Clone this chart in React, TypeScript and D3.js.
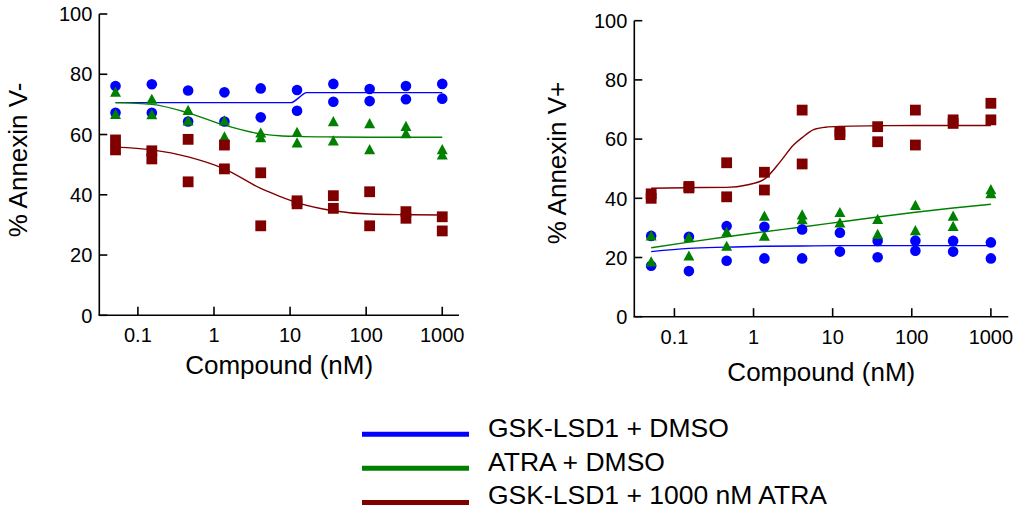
import React from 'react';
import * as d3 from 'd3';

// ---------- data ----------
const conc = [0.0508, 0.1524, 0.4572, 1.372, 4.115, 12.35, 37.04, 111.1, 333.3, 1000];

const seriesNames = ['GSK-LSD1 + DMSO', 'ATRA + DMSO', 'GSK-LSD1 + 1000 nM ATRA'];

// Annexin V- (left)
const negLsdRep1 = [76.1, 76.7, 74.6, 74.0, 75.3, 74.8, 76.8, 75.1, 76.1, 76.8];
const negLsdRep2 = [67.2, 67.2, 64.3, 64.3, 65.7, 67.9, 70.9, 71.1, 71.7, 71.9];
const negAtraRep1 = [74.2, 71.8, 68.1, 64.6, 60.6, 60.8, 64.4, 63.7, 62.8, 55.1];
const negAtraRep2 = [66.8, 66.7, 64.6, 59.3, 59.1, 57.3, 58.0, 55.1, 60.4, 53.3];
const negComboRep1 = [58.2, 54.6, 58.4, 56.5, 47.3, 38.0, 39.7, 41.0, 34.4, 32.7];
const negComboRep2 = [54.9, 51.9, 44.3, 48.6, 29.7, 37.0, 35.5, 29.7, 32.2, 28.0];

// fitted curves: [concentration, value]
const negLsdFit: [number, number][] = [[0.0508, 70.6], [10.4, 70.6], [13.1, 72.25], [16.4, 73.9], [1000, 73.9]];
const negAtraFit: [number, number][] = [[0.0508, 70.6], [0.1524, 70.0], [0.4572, 67.2], [1.372, 63.1], [4.115, 60.2], [7.3, 59.6], [12.35, 59.4], [37.04, 59.2], [111.1, 59.1], [333.3, 59.1], [1000, 59.1]];
const negComboFit: [number, number][] = [[0.0508, 55.8], [0.1524, 54.9], [0.4572, 52.6], [1.372, 48.6], [4.115, 42.1], [7.3, 39.5], [12.35, 37.4], [37.04, 34.7], [111.1, 33.6], [333.3, 33.4], [1000, 33.3]];

// Annexin V+ (right)
const posLsdRep1 = [27.3, 27.0, 30.6, 30.4, 29.5, 28.4, 25.6, 25.7, 25.6, 25.1];
const posLsdRep2 = [17.2, 15.4, 18.9, 19.7, 19.7, 22.0, 20.1, 22.3, 22.0, 19.7];
const posAtraRep1 = [27.4, 26.8, 28.7, 34.1, 34.5, 35.3, 33.0, 37.7, 34.1, 43.0];
const posAtraRep2 = [18.6, 20.6, 23.9, 27.3, 32.9, 31.8, 27.9, 29.2, 30.6, 41.7];
const posComboRep1 = [41.5, 44.0, 52.0, 48.8, 69.8, 62.5, 64.2, 69.8, 66.5, 72.1];
const posComboRep2 = [40.0, 43.5, 40.5, 42.8, 51.6, 61.5, 59.1, 58.0, 65.3, 66.5];

const posLsdFit: [number, number][] = [[0.0508, 22.0], [0.1524, 23.1], [0.4572, 23.5], [1.372, 23.8], [4.115, 23.9], [12.35, 24.0], [1000, 24.0]];
const posAtraFit: [number, number][] = [[0.0508, 23.3], [0.1524, 25.2], [0.4572, 27.0], [1.372, 28.7], [4.115, 30.3], [12.35, 32.0], [37.04, 33.7], [111.1, 35.3], [333.3, 36.7], [1000, 38.0]];
const posComboFit: [number, number][] = [[0.0508, 43.4], [0.1524, 43.6], [0.4572, 43.7], [0.82, 44.5], [1.372, 46.5], [2.18, 52.4], [3.2, 58.0], [4.115, 60.5], [5.75, 63.2], [8.1, 64.0], [12.35, 64.3], [37.04, 64.5], [111.1, 64.6], [333.3, 64.6], [1000, 64.6]];

const yTicks = [0, 20, 40, 60, 80, 100];
const xTicks = [0.1, 1, 10, 100, 1000];
const xTickLabels = ['0.1', '1', '10', '100', '1000'];

// ---------- styles / layout ----------
const FONT = '"Liberation Sans", Arial, Helvetica, sans-serif';
const COLORS = ['#0000ff', '#008000', '#800000'];
const X_DOMAIN: [number, number] = [0.0311, 1660];

type Marker = 'circle' | 'triangle' | 'square';
const MARKERS: Marker[] = ['circle', 'triangle', 'square'];

const panels = [
  {
    title: '% Annexin V-',
    left: 99.3, right: 459, top: 14, bottom: 315.3,
    titleX: 27, titleY: 160, xTitleY: 374,
    reps: [[negLsdRep1, negLsdRep2], [negAtraRep1, negAtraRep2], [negComboRep1, negComboRep2]],
    fits: [negLsdFit, negAtraFit, negComboFit],
  },
  {
    title: '% Annexin V+',
    left: 634.3, right: 1008.3, top: 20.7, bottom: 316.7,
    titleX: 566, titleY: 163, xTitleY: 380.5,
    reps: [[posLsdRep1, posLsdRep2], [posAtraRep1, posAtraRep2], [posComboRep1, posComboRep2]],
    fits: [posLsdFit, posAtraFit, posComboFit],
  },
];

function MarkerShape({ kind, x, y, color }: { kind: Marker; x: number; y: number; color: string }) {
  if (kind === 'circle') return <circle cx={x} cy={y} r={5.3} fill={color} />;
  if (kind === 'square') return <rect x={x - 5.4} y={y - 5.4} width={10.8} height={10.8} fill={color} />;
  return <path d={`M${x},${y - 5.3}L${x + 5.5},${y + 4.9}L${x - 5.5},${y + 4.9}Z`} fill={color} />;
}

function Panel({ p }: { p: typeof panels[number] }) {
  const x = d3.scaleLog().domain(X_DOMAIN).range([p.left, p.right]);
  const y = d3.scaleLinear().domain([0, 100]).range([p.bottom, p.top]);
  const line = d3
    .line<[number, number]>()
    .x((d) => x(d[0]))
    .y((d) => y(d[1]))
    .curve(d3.curveMonotoneX);
  const xMid = (p.left + p.right) / 2;
  return (
    <g>
      {/* axes */}
      <line x1={p.left} x2={p.left} y1={p.top} y2={p.bottom} stroke="#000" strokeWidth={1.6} />
      <line x1={p.left - 0.8} x2={p.right} y1={p.bottom} y2={p.bottom} stroke="#000" strokeWidth={1.6} />
      {yTicks.map((t) => (
        <g key={'y' + t}>
          <line x1={p.left} x2={p.left + 8} y1={y(t)} y2={y(t)} stroke="#000" strokeWidth={1.6} />
          <text x={p.left - 7} y={y(t)} dy="0.36em" textAnchor="end" fontSize={20} fontFamily={FONT} fill="#000">
            {t}
          </text>
        </g>
      ))}
      {xTicks.map((t, i) => (
        <g key={'x' + t}>
          <line x1={x(t)} x2={x(t)} y1={p.bottom} y2={p.bottom - 8.5} stroke="#000" strokeWidth={1.6} />
          <text x={x(t)} y={p.bottom + 27} textAnchor="middle" fontSize={20} fontFamily={FONT} fill="#000">
            {xTickLabels[i]}
          </text>
        </g>
      ))}
      <text x={xMid} y={p.xTitleY} textAnchor="middle" fontSize={26} fontFamily={FONT} fill="#000">
        Compound (nM)
      </text>
      <text
        transform={`translate(${p.titleX},${p.titleY}) rotate(-90)`}
        textAnchor="middle"
        fontSize={26}
        fontFamily={FONT}
        fill="#000"
      >
        {p.title}
      </text>
      {/* fitted curves */}
      {p.fits.map((f, si) => (
        <path key={'f' + si} d={line(f) || ''} fill="none" stroke={COLORS[si]} strokeWidth={1.4} />
      ))}
      {/* replicate points */}
      {p.reps.map((reps, si) => (
        <g key={'s' + si}>
          {reps.map((rep, ri) =>
            rep.map((v, i) => (
              <MarkerShape key={`${ri}-${i}`} kind={MARKERS[si]} x={x(conc[i])} y={y(v)} color={COLORS[si]} />
            ))
          )}
        </g>
      ))}
    </g>
  );
}

const legendLineY = [434.3, 468.3, 502.5];
const legendTextY = [437.3, 471, 504.2];

export default function App() {
  return (
    <svg
      width={1014}
      height={510}
      viewBox="0 0 1014 510"
      style={{ position: 'absolute', left: 0, top: 0, background: '#fff' }}
    >
      <rect x={0} y={0} width={1014} height={510} fill="#fff" />
      {panels.map((p, i) => (
        <Panel key={i} p={p} />
      ))}
      {seriesNames.map((name, i) => (
        <g key={name}>
          <line x1={362} x2={469} y1={legendLineY[i]} y2={legendLineY[i]} stroke={COLORS[i]} strokeWidth={5} />
          <text x={488} y={legendTextY[i]} fontSize={26.5} fontFamily={FONT} fill="#000">
            {name}
          </text>
        </g>
      ))}
    </svg>
  );
}
